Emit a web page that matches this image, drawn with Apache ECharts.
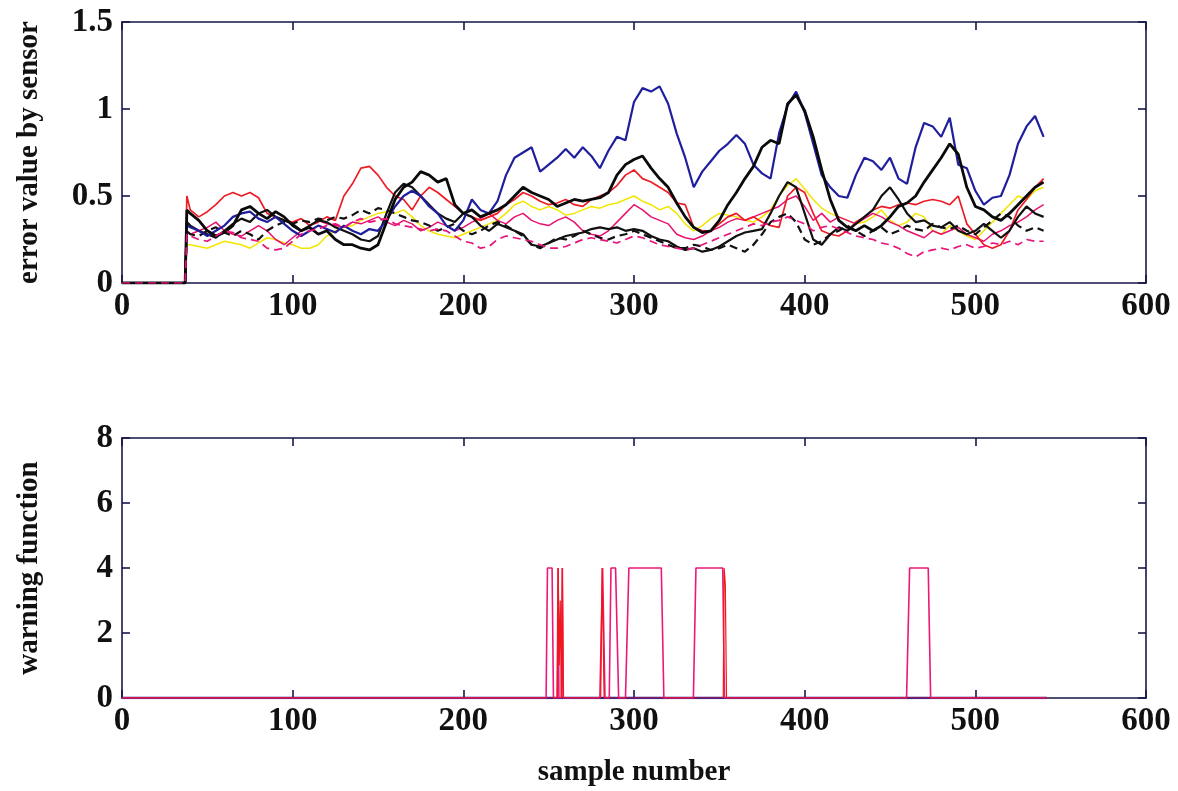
<!DOCTYPE html>
<html>
<head>
<meta charset="utf-8">
<title>Sensor error and warning function</title>
<script src="https://cdn.jsdelivr.net/npm/echarts@6/dist/echarts.min.js"></script>
<style>
  html, body { margin: 0; padding: 0; background: #ffffff; }
  #chart { width: 1178px; height: 791px; }
</style>
</head>
<body>
<div id="chart"></div>
<script>
// Sample positions shared by all sensor traces
const samples = [0, 37, 38,
  40, 45, 50, 55, 60, 65, 70, 75, 80, 85,
  90, 95, 100, 105, 110, 115, 120, 125, 130, 135,
  140, 145, 150, 155, 160, 165, 170, 175, 180, 185,
  190, 195, 200, 205, 210, 215, 220, 225, 230, 235,
  240, 245, 250, 255, 260, 265, 270, 275, 280, 285,
  290, 295, 300, 305, 310, 315, 320, 325, 330, 335,
  340, 345, 350, 355, 360, 365, 370, 375, 380, 385,
  390, 395, 400, 405, 410, 415, 420, 425, 430, 435,
  440, 445, 450, 455, 460, 465, 470, 475, 480, 485,
  490, 495, 500, 505, 510, 515, 520, 525, 530, 535,
  540];

// Error value per sensor
const sensorBlue = [0, 0, 0.33,
  0.32, 0.3, 0.27, 0.3, 0.33, 0.38, 0.4, 0.41, 0.37, 0.35,
  0.38, 0.34, 0.3, 0.27, 0.3, 0.33, 0.31, 0.29, 0.33, 0.3,
  0.28, 0.31, 0.3, 0.36, 0.44, 0.5, 0.53, 0.5, 0.44, 0.4,
  0.33, 0.3, 0.36, 0.48, 0.42, 0.4, 0.47, 0.62, 0.72, 0.75,
  0.78, 0.64, 0.68, 0.72, 0.77, 0.72, 0.78, 0.73, 0.66, 0.76,
  0.84, 0.82, 1.04, 1.12, 1.1, 1.13, 1.03, 0.86, 0.72, 0.55,
  0.64, 0.7, 0.76, 0.8, 0.85, 0.8, 0.68, 0.63, 0.6, 0.86,
  1.02, 1.1, 0.98, 0.8, 0.62, 0.55, 0.5, 0.49, 0.62, 0.72,
  0.7, 0.65, 0.72, 0.6, 0.57, 0.78, 0.92, 0.9, 0.84, 0.95,
  0.68, 0.66, 0.53, 0.45, 0.49, 0.5, 0.62, 0.8, 0.9, 0.96,
  0.84];

const sensorBlackA = [0, 0, 0.42,
  0.4, 0.36, 0.3, 0.27, 0.29, 0.33, 0.42, 0.44, 0.4, 0.37,
  0.41, 0.38, 0.33, 0.3, 0.32, 0.28, 0.3, 0.25, 0.22, 0.22,
  0.2, 0.19, 0.22, 0.35, 0.48, 0.55, 0.58, 0.64, 0.62, 0.58,
  0.6, 0.45, 0.4, 0.42, 0.38, 0.4, 0.42, 0.45, 0.5, 0.55,
  0.52, 0.5, 0.48, 0.44, 0.46, 0.48, 0.47, 0.48, 0.49, 0.52,
  0.62, 0.68, 0.71, 0.73, 0.66, 0.6, 0.55, 0.46, 0.38, 0.32,
  0.29, 0.3, 0.36, 0.45, 0.52, 0.6, 0.67, 0.78, 0.82, 0.8,
  1.03, 1.08, 0.99, 0.84, 0.65, 0.48, 0.36, 0.32, 0.3, 0.33,
  0.3, 0.33, 0.38, 0.44, 0.46, 0.5, 0.58, 0.65, 0.72, 0.8,
  0.74, 0.55, 0.44, 0.42, 0.38, 0.36, 0.4, 0.45, 0.5, 0.55,
  0.58];

const sensorBlackB = [0, 0, 0.35,
  0.33, 0.3, 0.28, 0.26, 0.3, 0.34, 0.37, 0.35, 0.4, 0.42,
  0.38, 0.36, 0.34, 0.3, 0.33, 0.36, 0.35, 0.32, 0.3, 0.28,
  0.25, 0.24, 0.27, 0.4, 0.52, 0.57, 0.55, 0.5, 0.45, 0.4,
  0.37, 0.35, 0.4, 0.38, 0.33, 0.3, 0.34, 0.32, 0.3, 0.28,
  0.22, 0.21, 0.23, 0.25, 0.27, 0.28, 0.29, 0.31, 0.32, 0.31,
  0.32, 0.3, 0.31, 0.3, 0.27, 0.25, 0.24, 0.21, 0.19, 0.2,
  0.18, 0.19, 0.21, 0.24, 0.27, 0.29, 0.3, 0.31, 0.4, 0.5,
  0.58, 0.55, 0.4, 0.25, 0.22, 0.28, 0.32, 0.3, 0.34, 0.38,
  0.42, 0.5, 0.55, 0.48, 0.4, 0.35, 0.36, 0.33, 0.32, 0.35,
  0.3, 0.28, 0.3, 0.34, 0.3, 0.26, 0.3, 0.38, 0.44, 0.4,
  0.38];

const sensorBlackDash = [0, 0, 0.3,
  0.28, 0.27, 0.3, 0.32, 0.29, 0.27, 0.3, 0.28, 0.25, 0.3,
  0.33, 0.35, 0.34, 0.36, 0.35, 0.37, 0.36, 0.38, 0.37, 0.39,
  0.42, 0.4, 0.43, 0.42, 0.4, 0.38, 0.36, 0.35, 0.33, 0.3,
  0.32, 0.34, 0.3, 0.28, 0.3, 0.33, 0.35, 0.33, 0.3, 0.27,
  0.22, 0.2, 0.23, 0.26, 0.25, 0.27, 0.3, 0.28, 0.26, 0.25,
  0.27, 0.28, 0.3, 0.28, 0.26, 0.24, 0.22, 0.2, 0.2, 0.22,
  0.21, 0.19, 0.2, 0.22, 0.2, 0.18, 0.22, 0.28, 0.35, 0.38,
  0.4, 0.35, 0.25, 0.22, 0.24, 0.28, 0.3, 0.33, 0.3, 0.27,
  0.3, 0.32, 0.28, 0.3, 0.33, 0.31, 0.3, 0.34, 0.32, 0.31,
  0.33, 0.3, 0.28, 0.32, 0.36, 0.4, 0.38, 0.33, 0.3, 0.32,
  0.3];

const sensorRed = [0, 0, 0.5,
  0.42, 0.38, 0.41, 0.45, 0.5, 0.52, 0.5, 0.52, 0.49, 0.4,
  0.38, 0.36, 0.35, 0.37, 0.33, 0.35, 0.38, 0.36, 0.5, 0.57,
  0.66, 0.67, 0.62, 0.55, 0.5, 0.48, 0.42, 0.5, 0.55, 0.52,
  0.48, 0.44, 0.4, 0.38, 0.36, 0.38, 0.4, 0.45, 0.48, 0.52,
  0.5, 0.47, 0.45, 0.46, 0.48, 0.45, 0.44, 0.48, 0.5, 0.52,
  0.56, 0.62, 0.65, 0.6, 0.58, 0.55, 0.52, 0.46, 0.45, 0.32,
  0.3, 0.3, 0.34, 0.38, 0.4, 0.36, 0.38, 0.35, 0.33, 0.32,
  0.5, 0.55, 0.52, 0.4, 0.3, 0.28, 0.27, 0.3, 0.35, 0.38,
  0.42, 0.44, 0.43, 0.45, 0.46, 0.45, 0.47, 0.48, 0.47, 0.45,
  0.5, 0.34, 0.28, 0.22, 0.2, 0.22, 0.3, 0.42, 0.48, 0.55,
  0.6];

const sensorMagenta = [0, 0, 0.3,
  0.28, 0.3, 0.32, 0.35, 0.3, 0.28, 0.27, 0.3, 0.33, 0.3,
  0.25, 0.22, 0.26, 0.3, 0.33, 0.36, 0.34, 0.33, 0.32, 0.35,
  0.34, 0.36, 0.38, 0.35, 0.33, 0.36, 0.34, 0.3, 0.32, 0.35,
  0.33, 0.3, 0.32, 0.35, 0.37, 0.4, 0.36, 0.34, 0.38, 0.4,
  0.36, 0.34, 0.33, 0.36, 0.38, 0.35, 0.3, 0.28, 0.27, 0.3,
  0.35, 0.4, 0.45, 0.42, 0.38, 0.36, 0.34, 0.28, 0.26, 0.25,
  0.27, 0.3, 0.32, 0.35, 0.37, 0.36, 0.38, 0.4, 0.42, 0.44,
  0.48, 0.5, 0.44, 0.36, 0.4, 0.35, 0.38, 0.36, 0.34, 0.37,
  0.4, 0.38, 0.35, 0.33, 0.3, 0.28, 0.26, 0.3, 0.28, 0.3,
  0.32, 0.28, 0.26, 0.24, 0.28, 0.3, 0.33, 0.35, 0.38, 0.42,
  0.45];

const sensorMagentaDash = [0, 0, 0.28,
  0.27, 0.25, 0.24, 0.27, 0.3, 0.29, 0.26, 0.25, 0.24, 0.2,
  0.19, 0.2, 0.24, 0.28, 0.3, 0.31, 0.33, 0.34, 0.32, 0.35,
  0.37, 0.35, 0.36, 0.37, 0.34, 0.33, 0.32, 0.31, 0.3, 0.31,
  0.3, 0.27, 0.24, 0.23, 0.2, 0.21, 0.25, 0.27, 0.26, 0.25,
  0.24, 0.22, 0.2, 0.2, 0.21, 0.23, 0.25, 0.26, 0.25, 0.24,
  0.23, 0.25, 0.27, 0.26, 0.24, 0.22, 0.21, 0.2, 0.19, 0.2,
  0.22, 0.24, 0.26, 0.28, 0.3, 0.32, 0.34, 0.33, 0.35, 0.36,
  0.38, 0.36, 0.34, 0.3, 0.32, 0.33, 0.31, 0.29, 0.27, 0.26,
  0.25, 0.23, 0.22, 0.2, 0.17, 0.15, 0.18, 0.19, 0.2, 0.19,
  0.21, 0.22, 0.2, 0.21, 0.23, 0.22, 0.24, 0.22, 0.25, 0.24,
  0.24];

const sensorYellow = [0, 0, 0.22,
  0.22, 0.21, 0.2, 0.22, 0.24, 0.23, 0.22, 0.2, 0.23, 0.26,
  0.25, 0.23, 0.22, 0.2, 0.2, 0.22, 0.27, 0.3, 0.32, 0.33,
  0.36, 0.38, 0.4, 0.41, 0.4, 0.42, 0.38, 0.33, 0.3, 0.28,
  0.27, 0.26, 0.28, 0.3, 0.32, 0.34, 0.36, 0.4, 0.45, 0.47,
  0.44, 0.42, 0.44, 0.42, 0.39, 0.4, 0.42, 0.44, 0.43, 0.45,
  0.46, 0.48, 0.5, 0.47, 0.45, 0.42, 0.44, 0.4, 0.34, 0.3,
  0.33, 0.37, 0.4, 0.39, 0.38, 0.36, 0.35, 0.38, 0.42, 0.5,
  0.56, 0.6, 0.54, 0.48, 0.43, 0.4, 0.38, 0.36, 0.34, 0.35,
  0.38, 0.42, 0.36, 0.33, 0.35, 0.4, 0.38, 0.3, 0.28, 0.33,
  0.3, 0.27, 0.25, 0.3, 0.35, 0.4, 0.45, 0.5, 0.48, 0.53,
  0.55];

// Warning function: alarm pulses (level 4) and short spikes
const warnX = [0, 248.5, 249.3, 252, 252.8, 255, 255.5, 256, 257.5, 258, 258.6,
  280, 281.6, 283, 285.5, 286.5, 289.2, 291, 295, 297, 316, 317.5,
  334.8, 336.3, 352, 353, 459.7, 461.5, 472.4, 473.8, 542];
const warnY = [0, 0, 4, 4, 0, 0, 4, 0, 0, 4, 0,
  0, 4, 0, 0, 4, 4, 0, 0, 4, 4, 0,
  0, 4, 4, 0, 0, 4, 4, 0, 0];
const spikeX = [0, 255, 255.6, 256.2, 256.8, 257.4, 258, 258.5,
  280.5, 281.3, 281.9, 282.5, 352.3, 352.8, 353.5, 354.2, 542];
const spikeY = [0, 0, 4, 1, 3, 0, 4, 0,
  0, 4, 2, 0, 0, 4, 3.5, 0, 0];
const baseX = [0, 542];
const baseY = [0, 0];

const pairs = (xs, ys) => xs.map((x, i) => [x, ys[i]]);

const FONT = 'Liberation Serif';
const AXIS = '#16164a';
const TEXT = '#111111';

function frameX(gridIndex, bottom) {
  return {
    type: 'value', gridIndex, min: 0, max: 600, interval: 100,
    position: bottom ? 'bottom' : 'top',
    axisLine: { show: true, onZero: false, lineStyle: { color: AXIS, width: 1.6 } },
    axisTick: { show: true, inside: true, length: 8, lineStyle: { color: AXIS, width: 1.6 } },
    axisLabel: {
      show: bottom, margin: 7, color: TEXT,
      fontFamily: FONT, fontWeight: 'bold', fontSize: 33
    },
    splitLine: { show: false }
  };
}

function frameY(gridIndex, left, max, interval) {
  return {
    type: 'value', gridIndex, min: 0, max, interval,
    position: left ? 'left' : 'right',
    axisLine: { show: true, onZero: false, lineStyle: { color: AXIS, width: 1.6 } },
    axisTick: { show: true, inside: true, length: 8, lineStyle: { color: AXIS, width: 1.6 } },
    axisLabel: {
      show: left, margin: 9, color: TEXT,
      fontFamily: FONT, fontWeight: 'bold', fontSize: 33
    },
    splitLine: { show: false }
  };
}

function trace(name, ys, color, width, dashed) {
  return {
    name, type: 'line', xAxisIndex: 0, yAxisIndex: 0,
    data: pairs(samples, ys),
    showSymbol: false, symbol: 'none', animation: false,
    lineStyle: { color, width, type: dashed ? [8, 5] : 'solid' }
  };
}

const nameStyle = { color: TEXT, fontFamily: FONT, fontWeight: 'bold', fontSize: 29 };

const xBottom = frameX(1, true);
xBottom.name = 'sample number';
xBottom.nameLocation = 'middle';
xBottom.nameGap = 60;
xBottom.nameTextStyle = nameStyle;

const yTop = frameY(0, true, 1.5, 0.5);
yTop.name = 'error value by sensor';
yTop.nameLocation = 'middle';
yTop.nameGap = 78;
yTop.nameTextStyle = nameStyle;

const yBottom = frameY(1, true, 8, 2);
yBottom.name = 'warning function';
yBottom.nameLocation = 'middle';
yBottom.nameGap = 78;
yBottom.nameTextStyle = nameStyle;

const chart = echarts.init(document.getElementById('chart'), null, { renderer: 'canvas' });
chart.setOption({
  backgroundColor: '#ffffff',
  animation: false,
  grid: [
    { left: 122, right: 32, top: 22, height: 261 },
    { left: 122, right: 32, top: 438, height: 260 }
  ],
  xAxis: [frameX(0, true), frameX(0, false), xBottom, frameX(1, false)],
  yAxis: [yTop, frameY(0, false, 1.5, 0.5), yBottom, frameY(1, false, 8, 2)],
  series: [
    trace('sensor 7', sensorYellow, '#f2e600', 1.5, false),
    trace('sensor 6', sensorMagenta, '#e8126e', 1.5, false),
    trace('sensor 5', sensorRed, '#ee1c25', 1.7, false),
    trace('sensor 4', sensorBlackDash, '#111111', 2.2, true),
    trace('sensor 3', sensorBlackB, '#111111', 2.2, false),
    trace('sensor 1', sensorBlue, '#1f1f9e', 2.2, false),
    trace('sensor 2', sensorBlackA, '#0a0a0a', 2.8, false),
    trace('sensor 8', sensorMagentaDash, '#e8127c', 1.7, true),
    {
      name: 'baseline', type: 'line', xAxisIndex: 2, yAxisIndex: 2,
      data: pairs(baseX, baseY), showSymbol: false, symbol: 'none',
      lineStyle: { color: '#1f1f9e', width: 2.5 }
    },
    {
      name: 'warning', type: 'line', xAxisIndex: 2, yAxisIndex: 2,
      data: pairs(warnX, warnY), showSymbol: false, symbol: 'none',
      lineStyle: { color: '#ec1778', width: 1.6 }
    },
    {
      name: 'spikes', type: 'line', xAxisIndex: 2, yAxisIndex: 2,
      data: pairs(spikeX, spikeY), showSymbol: false, symbol: 'none',
      lineStyle: { color: '#f01818', width: 1.2 }
    }
  ]
});
</script>
</body>
</html>
